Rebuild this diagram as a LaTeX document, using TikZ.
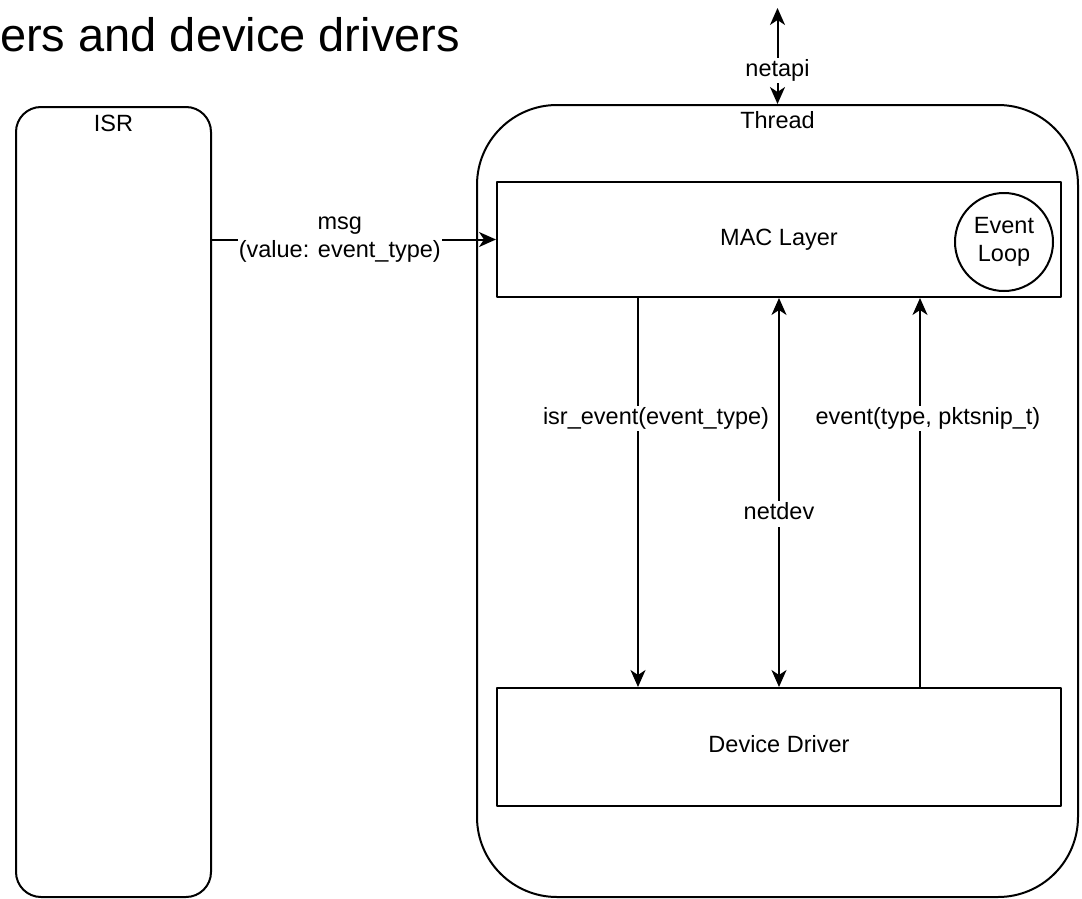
\documentclass[tikz,border=0pt]{standalone}
\usepackage{fontspec}
\setmainfont{Liberation Sans}
\usetikzlibrary{arrows.meta,positioning}

\begin{document}
\begin{tikzpicture}[line cap=round,line join=round,>={Stealth[length=17pt,width=15pt,inset=5pt]},x=1pt,y=-1pt,
		box/.style={draw,line width=2pt,rectangle,inner sep=0pt},
		lbl/.style={font=\fontsize{23.5}{28}\selectfont,inner sep=1pt},
		tag/.style={lbl,text height=17.6pt,text depth=5.9pt},
		wire/.style={line width=2pt}]
		\useasboundingbox (0,0) rectangle (1082,899);
		%%%%%%%%%%%%%%% T I T L E %%%%%%%%%%%%%%%%
		\node[anchor=base west,inner sep=0pt,font=\fontsize{47}{56}\selectfont] (title) at (0,52) {ers and device drivers};
		%%%%%%%%%%%%%%% B O X E S %%%%%%%%%%%%%%%%
		%isr
		\node[box,rounded corners=25pt,minimum width=195pt,minimum height=790pt] (isr) at (113.5,502) {};
		\node[tag] (isrname) at ([yshift=-20pt]isr.north) {ISR};
		%thread
		\node[box,rounded corners=80pt,minimum width=601pt,minimum height=792pt] (thread) at (777.5,501) {};
		\node[tag] (threadname) at ([yshift=-19pt]thread.north) {Thread};
		%mac layer
		\node[box,tag,minimum width=564pt,minimum height=115pt] (mac) at (779,239.5) {MAC Layer};
		\node[box,lbl,circle,align=center,minimum size=98pt,inner sep=0pt] (evloop) at (1004,242) {Event\\Loop};
		%device driver
		\node[box,tag,minimum width=564pt,minimum height=118pt] (dd) at (779,747) {Device Driver};
		%%%%%%%%%%%%%%% A R R O W S %%%%%%%%%%%%%%%%
		%netapi
		\coordinate (apitop) at (thread.north |- 0,8);
		\draw[wire,<->] (thread.north) -- (apitop) node[tag,pos=0.35,fill=white] (netapi) {netapi};
		%msg
		\draw[wire,->] (isr.east |- mac.west) -- (mac.west) node[lbl,pos=0.45,fill=white,align=center] (msg) {msg\\(value: event\_type)};
		%mac -> driver
		\draw[wire,->] ([xshift=-141pt]mac.south) -- ([xshift=-141pt]dd.north) node[tag,pos=0.31,fill=white,xshift=18pt] (isrevent) {isr\_event(event\_type)};
		%netdev
		\draw[wire,<->] (mac.south) -- (dd.north) node[tag,pos=0.555,fill=white] (netdev) {netdev};
		%driver -> mac
		\draw[wire,->] ([xshift=141pt]dd.north) -- ([xshift=141pt]mac.south) node[tag,pos=0.69,fill=white,xshift=8pt] (event) {event(type, pktsnip\_t)};
	\end{tikzpicture}
\end{document}
